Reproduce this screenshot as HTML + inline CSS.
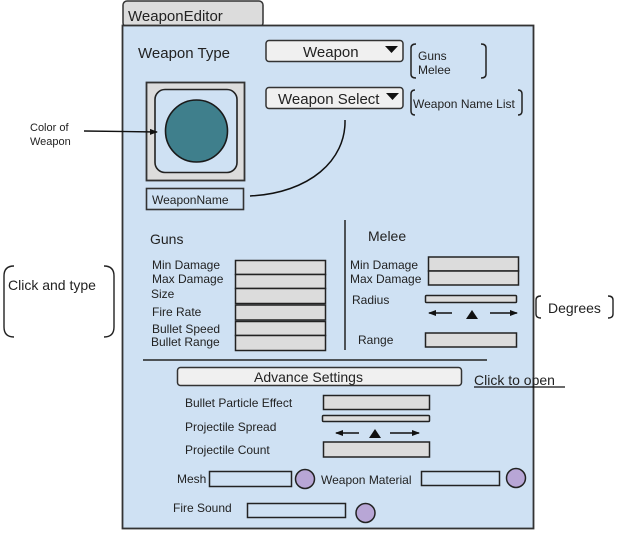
<!DOCTYPE html>
<html><head><meta charset="utf-8"><style>
html,body{margin:0;padding:0;background:#fff;}
svg{display:block;}
text{font-family:"Liberation Sans",Arial,sans-serif;fill:#222;}
</style></head><body>
<svg width="621" height="545" viewBox="0 0 621 545" xmlns="http://www.w3.org/2000/svg">
<defs>
<marker id="ah" markerWidth="8" markerHeight="8" refX="7" refY="4" orient="auto" markerUnits="userSpaceOnUse"><path d="M0,1 L8,4 L0,7 z" fill="#111"/></marker>
</defs>
<!-- tab -->
<rect x="123" y="1" width="140" height="26" rx="4" fill="#dcdcdc" stroke="#333" stroke-width="1.5"/>
<text x="128" y="21" font-size="15">WeaponEditor</text>
<!-- panel -->
<rect x="122.5" y="25.5" width="411" height="503" fill="#cfe1f3" stroke="#333" stroke-width="1.8"/>

<text x="138" y="58" font-size="15">Weapon Type</text>
<rect x="266" y="40.5" width="137" height="21" rx="3" fill="#f0f0f0" stroke="#333" stroke-width="1.5"/>
<text x="303" y="57" font-size="15">Weapon</text>
<path d="M385,46 L398,46 L391.5,53 z" fill="#111"/>
<path d="M416,44 Q411,44 411,48 L411,74 Q411,78 416,78" fill="none" stroke="#222" stroke-width="1.5"/>
<path d="M481,44 Q486,44 486,48 L486,74 Q486,78 481,78" fill="none" stroke="#222" stroke-width="1.5"/>
<text x="418" y="60" font-size="12">Guns</text>
<text x="418" y="74" font-size="12">Melee</text>

<rect x="266" y="87.5" width="137" height="21" rx="3" fill="#f0f0f0" stroke="#333" stroke-width="1.5"/>
<text x="278" y="104" font-size="15">Weapon Select</text>
<path d="M386,93 L399,93 L392.5,100 z" fill="#111"/>
<path d="M415,90 Q411,90 411,94 L411,111 Q411,115 415,115" fill="none" stroke="#222" stroke-width="1.5"/>
<path d="M518,90 Q522,90 522,94 L522,111 Q522,115 518,115" fill="none" stroke="#222" stroke-width="1.5"/>
<text x="413" y="108" font-size="12">Weapon Name List</text>

<!-- color preview -->
<rect x="146.5" y="82.5" width="98" height="98" fill="#dcdcdc" stroke="#333" stroke-width="1.8"/>
<rect x="155" y="89.5" width="82" height="83" rx="10" fill="#cfe1f3" stroke="#222" stroke-width="1.6"/>
<circle cx="196.5" cy="131" r="31" fill="#3f7f8c" stroke="#1a1a1a" stroke-width="1.6"/>
<rect x="146.5" y="188.5" width="97" height="21" fill="#cfe1f3" stroke="#333" stroke-width="1.6"/>
<text x="152" y="204" font-size="12">WeaponName</text>
<path d="M250,196 C310,193 346,160 345,120" fill="none" stroke="#111" stroke-width="1.5"/>

<!-- left annotations -->
<text x="30" y="131" font-size="11">Color of</text>
<text x="30" y="145" font-size="11">Weapon</text>
<line x1="84" y1="131" x2="157" y2="132" stroke="#111" stroke-width="1.4" marker-end="url(#ah)"/>
<path d="M14,266 Q4,266 4,276 L4,327 Q4,337 14,337" fill="none" stroke="#222" stroke-width="1.4"/>
<path d="M104,266 Q114,266 114,276 L114,327 Q114,337 104,337" fill="none" stroke="#222" stroke-width="1.4"/>
<text x="8" y="290" font-size="14">Click and type</text>

<!-- guns -->
<text x="150" y="244" font-size="14">Guns</text>
<g font-size="12">
<text x="152" y="269">Min Damage</text>
<text x="152" y="283">Max Damage</text>
<text x="151" y="298">Size</text>
<text x="152" y="316">Fire Rate</text>
<text x="152" y="333">Bullet Speed</text>
<text x="151" y="346">Bullet Range</text>
</g>
<g fill="#dcdcdc" stroke="#222" stroke-width="1.5">
<rect x="235.5" y="260.5" width="90" height="14"/>
<rect x="235.5" y="274.5" width="90" height="14"/>
<rect x="235.5" y="288.5" width="90" height="15"/>
<rect x="235.5" y="305" width="90" height="15"/>
<rect x="235.5" y="321.5" width="90" height="14"/>
<rect x="235.5" y="335.5" width="90" height="15"/>
</g>
<line x1="345" y1="220" x2="345" y2="350" stroke="#222" stroke-width="1.5"/>

<!-- melee -->
<text x="368" y="241" font-size="14">Melee</text>
<g font-size="12">
<text x="350" y="269">Min Damage</text>
<text x="350" y="283">Max Damage</text>
<text x="352" y="304">Radius</text>
<text x="358" y="344">Range</text>
</g>
<g fill="#dcdcdc" stroke="#222" stroke-width="1.5">
<rect x="428.5" y="257" width="90" height="14"/>
<rect x="428.5" y="271" width="90" height="14"/>
<rect x="425.5" y="295.5" width="91" height="7" rx="1"/>
<rect x="425.5" y="333" width="91" height="14"/>
</g>
<line x1="452" y1="313" x2="429" y2="313" stroke="#111" stroke-width="1.4" marker-end="url(#ah)"/>
<path d="M466,319 L478,319 L472,310 z" fill="#111"/>
<line x1="490" y1="313" x2="517" y2="313" stroke="#111" stroke-width="1.4" marker-end="url(#ah)"/>
<path d="M541,296 Q536,296 536,300 L536,314 Q536,318 541,318" fill="none" stroke="#222" stroke-width="1.4"/>
<path d="M608,296 Q613,296 613,300 L613,314 Q613,318 608,318" fill="none" stroke="#222" stroke-width="1.4"/>
<text x="548" y="313" font-size="14">Degrees</text>

<line x1="143" y1="360" x2="487" y2="360" stroke="#222" stroke-width="1.5"/>
<rect x="177.5" y="367.5" width="284" height="18" rx="3" fill="#f0f0f0" stroke="#333" stroke-width="1.5"/>
<text x="254" y="382" font-size="14">Advance Settings</text>
<text x="474" y="385" font-size="14">Click to open</text>
<line x1="474" y1="387" x2="565" y2="387" stroke="#111" stroke-width="1.3"/>

<!-- advanced -->
<g font-size="12">
<text x="185" y="407">Bullet Particle Effect</text>
<text x="185" y="431">Projectile Spread</text>
<text x="185" y="454">Projectile Count</text>
</g>
<g fill="#dcdcdc" stroke="#222" stroke-width="1.5">
<rect x="323.5" y="395.5" width="106" height="14"/>
<rect x="322.5" y="415.5" width="107" height="6" rx="1"/>
<rect x="323.5" y="442" width="106" height="15"/>
</g>
<line x1="359" y1="433" x2="336" y2="433" stroke="#111" stroke-width="1.4" marker-end="url(#ah)"/>
<path d="M369,438 L381,438 L375,429 z" fill="#111"/>
<line x1="390" y1="433" x2="419" y2="433" stroke="#111" stroke-width="1.4" marker-end="url(#ah)"/>

<text x="177" y="483" font-size="12">Mesh</text>
<rect x="209.5" y="471.5" width="82" height="15" fill="#cfe1f3" stroke="#222" stroke-width="1.5"/>
<circle cx="305" cy="479" r="9.5" fill="#b8a6d6" stroke="#222" stroke-width="1.5"/>
<text x="321" y="484" font-size="12">Weapon Material</text>
<rect x="421.5" y="471.5" width="78" height="14" fill="#cfe1f3" stroke="#222" stroke-width="1.5"/>
<circle cx="516" cy="478" r="9.5" fill="#b8a6d6" stroke="#222" stroke-width="1.5"/>
<text x="173" y="512" font-size="12">Fire Sound</text>
<rect x="247.5" y="503.5" width="98" height="14" fill="#cfe1f3" stroke="#222" stroke-width="1.5"/>
<circle cx="365.5" cy="513" r="9.5" fill="#b8a6d6" stroke="#222" stroke-width="1.5"/>
</svg>
</body></html>
